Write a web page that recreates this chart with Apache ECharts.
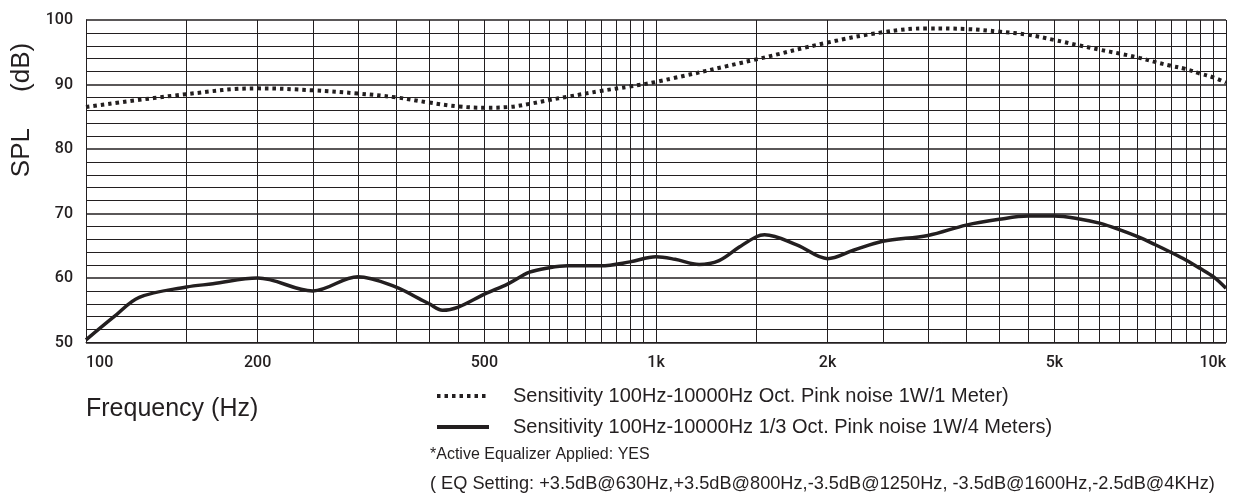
<!DOCTYPE html>
<html>
<head>
<meta charset="utf-8">
<script src="https://cdn.jsdelivr.net/npm/echarts@6/dist/echarts.min.js"></script>
<style>html,body{margin:0;padding:0;background:#fff;}#chart{width:1239px;height:495px;}</style>
</head>
<body>
<div id="chart"></div>
<script>
// ---- data ----
const freqOct = [100,150,200,250,300,350,400,450,500,550,600,650,700,800,900,1000,1500,2000,2500,3000,3500,4000,4500,5000,5500,6000,6500,7000,7500,8000,8500,9000,9500,10000];
const splOct = [86.5,88.5,89.4,89.1,88.6,88.0,87.2,86.6,86.4,86.5,87.0,87.6,88.1,89.0,89.7,90.4,93.9,96.5,98.1,98.7,98.6,98.2,97.7,96.9,96.1,95.4,94.8,94.2,93.5,92.9,92.4,91.7,91.1,90.3];
const freqThird = [100,112,124,150,167,200,250,300,350,384,400,422,450,500,550,600,650,700,800,900,1000,1080,1190,1290,1400,1500,1550,1770,2000,2220,2500,3000,3500,4000,4500,5000,5500,6000,6500,7000,7500,8000,8500,9000,9500,10000];
const splThird = [50.4,54.0,57.0,58.6,59.1,60.0,58.0,60.2,58.6,56.8,56.0,55.0,55.5,57.5,59.1,60.9,61.6,61.9,61.9,62.5,63.3,62.9,62.1,62.7,64.8,66.4,66.7,65.1,63.0,64.3,65.7,66.6,68.2,69.1,69.6,69.6,69.2,68.5,67.5,66.4,65.2,64.0,62.8,61.5,60.2,58.4];
const xLabelFreqs = [100,200,500,1000,2000,5000,10000];
const gridFreqs = [100,150,200,250,300,350,400,450,500,550,600,650,700,750,800,850,900,950,1000,
  1500,2000,2500,3000,3500,4000,4500,5000,5500,6000,6500,7000,7500,8000,8500,9000,9500,10000];
const seriesNames = ['Sensitivity 100Hz-10000Hz Oct. Pink noise 1W/1 Meter)','Sensitivity 100Hz-10000Hz 1/3 Oct. Pink noise 1W/4 Meters)'];
const noteLines = ['*Active Equalizer Applied: YES','( EQ Setting: +3.5dB@630Hz,+3.5dB@800Hz,-3.5dB@1250Hz, -3.5dB@1600Hz,-2.5dB@4KHz)'];
const yName = 'SPL     (dB)';
const xName = 'Frequency (Hz)';

const ink = '#231f20';
const font = 'Liberation Sans, Arial, sans-serif';
const chart = echarts.init(document.getElementById('chart'), null, {renderer:'canvas'});
const fmtFreq = v => v >= 1000 ? (v/1000) + 'k' : String(v);

chart.setOption({
  animation: false,
  backgroundColor: '#fff',
  grid: {left: 86, right: 13, top: 20, bottom: 152.5, containLabel: false},
  xAxis: {
    type: 'log', logBase: 10, min: 100, max: 10000,
    axisLine: {show: true, lineStyle: {color: ink, width: 1}},
    axisTick: {show: false},
    splitLine: {show: false},
    axisLabel: {
      customValues: xLabelFreqs,
      formatter: v => fmtFreq(Math.round(v)),
      color: ink, fontSize: 16, fontWeight: 500, fontFamily: 'Roboto, sans-serif', margin: 12,
      alignMinLabel: 'left', alignMaxLabel: 'right'
    }
  },
  yAxis: {
    type: 'value', min: 50, max: 100, interval: 10,
    axisLine: {show: true, lineStyle: {color: ink, width: 1}},
    axisTick: {show: false},
    splitLine: {show: true, lineStyle: {color: ink, width: 1.6}},
    minorTick: {show: false, splitNumber: 5},
    minorSplitLine: {show: true, lineStyle: {color: ink, width: 1}},
    axisLabel: {color: ink, fontSize: 16, fontWeight: 500, fontFamily: 'Roboto, sans-serif', margin: 13}
  },
  legend: {
    orient: 'vertical', left: 430, top: 381,
    itemWidth: 52, itemHeight: 18, itemGap: 11,
    selectedMode: false,
    itemStyle: {opacity: 0},
    lineStyle: {width: 4, color: ink},
    textStyle: {color: ink, fontSize: 20, fontFamily: font,
      rich: {g: {width: 19}}},
    formatter: name => '{g|}' + name,
    data: seriesNames
  },
  series: [
    {
      name: seriesNames[0], type: 'line', smooth: 0.4, symbol: 'none',
      data: freqOct.map((f,i) => [f, splOct[i]]),
      lineStyle: {color: ink, width: 4, type: [3.5, 4], cap: 'butt'},
      itemStyle: {color: ink}, z: 3,
      markLine: {
        silent: true, symbol: 'none', z: 1, animation: false,
        label: {show: false},
        lineStyle: {color: ink, width: 1, type: 'solid'},
        data: gridFreqs.map(f => ({xAxis: f}))
      }
    },
    {
      name: seriesNames[1], type: 'line', smooth: 0.35, symbol: 'none',
      data: freqThird.map((f,i) => [f, splThird[i]]),
      lineStyle: {color: ink, width: 3.5, type: 'solid'},
      itemStyle: {color: ink}, z: 3
    }
  ],
  graphic: [
    {type: 'text', x: 22, y: 110, rotation: Math.PI/2,
      style: {text: yName, fill: ink, font: '26px ' + font, textAlign: 'center', textVerticalAlign: 'middle'}},
    {type: 'text', x: 86, y: 409,
      style: {text: xName, fill: ink, font: '25px ' + font, textAlign: 'left', textVerticalAlign: 'middle'}},
    {type: 'text', x: 430, y: 455,
      style: {text: noteLines[0], fill: ink, font: '16px ' + font, textAlign: 'left', textVerticalAlign: 'middle'}},
    {type: 'text', x: 430, y: 484,
      style: {text: noteLines[1], fill: ink, font: '18.2px ' + font, textAlign: 'left', textVerticalAlign: 'middle'}}
  ]
});
</script>
</body>
</html>
